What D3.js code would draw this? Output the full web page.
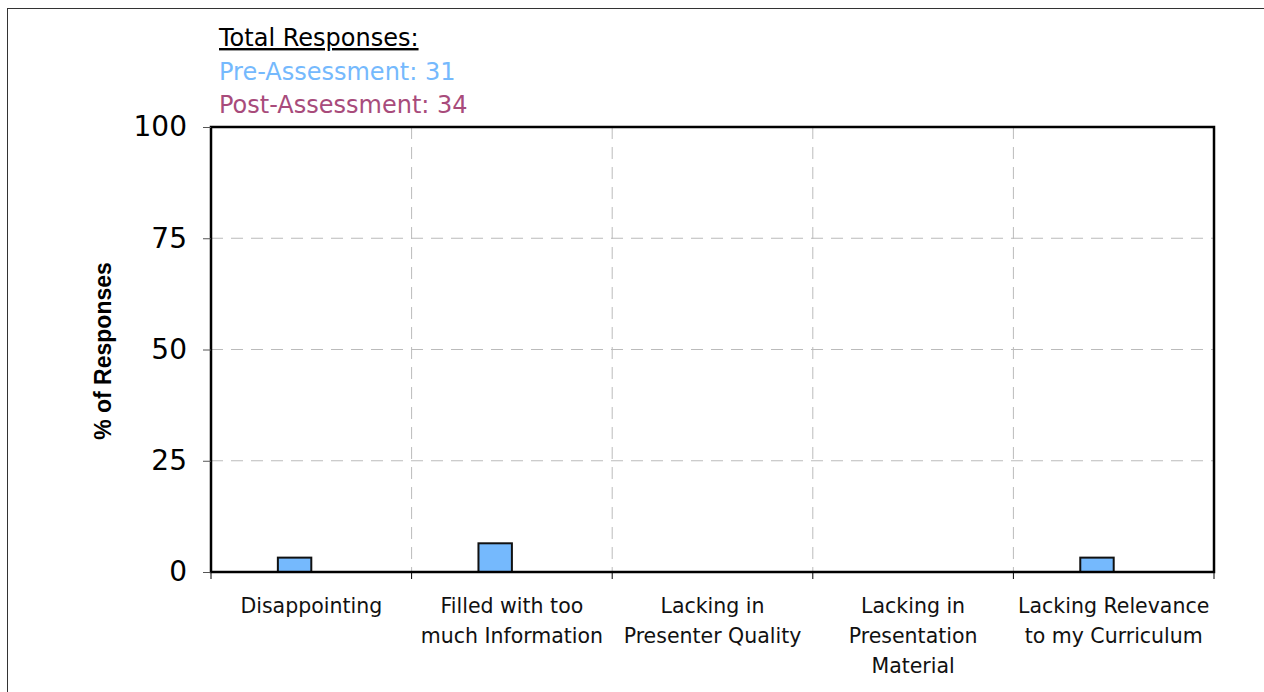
<!DOCTYPE html>
<html>
<head>
<meta charset="utf-8">
<script src="https://cdn.jsdelivr.net/npm/d3@7"></script>
<style>
  body { margin: 0; background: #fff; }
  svg { display: block; }
</style>
</head>
<body>
<svg id="chart" width="1264" height="692"></svg>
<script>
// categories and values (% of responses)
let categories = [
    ["Disappointing"],
    ["Filled with too", "much Information"],
    ["Lacking in", "Presenter Quality"],
    ["Lacking in", "Presentation", "Material"],
    ["Lacking Relevance", "to my Curriculum"]
]
let preValues = [3.23, 6.45, 0, 0, 3.23]
let postValues = [0, 0, 0, 0, 0]
let yTicks = [0, 25, 50, 75, 100]
let totalPre = 31, totalPost = 34

let preColor = "#75b9fd"
let postColor = "#a84b7b"

let svg = d3.select("#chart")

// outer frame (runs past the window on right and bottom)
svg.append("rect")
    .attr("x", 7.5).attr("y", 8.5)
    .attr("width", 1300).attr("height", 720)
    .attr("fill", "none")
    .attr("stroke", "#333")
    .attr("stroke-width", 1)

let plotLeft = 211, plotTop = 127, plotRight = 1214, plotBottom = 572

let keys = categories.map((d, i) => i)
let xScale = d3.scaleBand().domain(keys).range([plotLeft, plotRight])
let yScale = d3.scaleLinear().domain([0, 100]).range([plotBottom, plotTop])

// gridlines
svg.append("g")
    .selectAll("line")
    .data(yTicks.filter(d => d > 0 && d < 100))
    .join("line")
    .attr("x1", plotLeft).attr("x2", plotRight)
    .attr("y1", d => yScale(d)).attr("y2", d => yScale(d))
    .attr("stroke", "#bbb")
    .attr("stroke-dasharray", "12,8")

svg.append("g")
    .selectAll("line")
    .data(keys.slice(1))
    .join("line")
    .attr("x1", d => xScale(d)).attr("x2", d => xScale(d))
    .attr("y1", plotTop).attr("y2", plotBottom)
    .attr("stroke", "#bbb")
    .attr("stroke-dasharray", "12,8")

// bars
let barW = xScale.bandwidth() / 6
let cx = d => xScale(d) + xScale.bandwidth() / 2

svg.append("g")
    .selectAll("rect")
    .data(keys.filter(i => preValues[i] > 0))
    .join("rect")
    .attr("x", i => cx(i) - barW)
    .attr("y", i => yScale(preValues[i]))
    .attr("width", barW)
    .attr("height", i => yScale(0) - yScale(preValues[i]))
    .attr("fill", preColor)
    .attr("stroke", "#111")
    .attr("stroke-width", 2)

svg.append("g")
    .selectAll("rect")
    .data(keys.filter(i => postValues[i] > 0))
    .join("rect")
    .attr("x", i => cx(i))
    .attr("y", i => yScale(postValues[i]))
    .attr("width", barW)
    .attr("height", i => yScale(0) - yScale(postValues[i]))
    .attr("fill", postColor)
    .attr("stroke", "#111")
    .attr("stroke-width", 2)

// plot border
svg.append("rect")
    .attr("x", plotLeft).attr("y", plotTop)
    .attr("width", plotRight - plotLeft).attr("height", plotBottom - plotTop)
    .attr("fill", "none")
    .attr("stroke", "#000")
    .attr("stroke-width", 2.5)

// y axis
let yAxis = svg.append("g")
    .attr("transform", `translate(${plotLeft},0)`)
    .call(d3.axisLeft(yScale).tickValues(yTicks).tickSize(8).tickPadding(16))
yAxis.select(".domain").remove()
yAxis.selectAll("line").attr("stroke", "#555")
yAxis.selectAll("text")
    .style("font-family", "'DejaVu Sans', sans-serif")
    .style("font-size", "28px")
    .attr("fill", "#000")

// x axis ticks at band boundaries
svg.append("g")
    .selectAll("line")
    .data(keys.concat([keys.length]))
    .join("line")
    .attr("x1", d => d < keys.length ? xScale(d) : plotRight)
    .attr("x2", d => d < keys.length ? xScale(d) : plotRight)
    .attr("y1", plotBottom).attr("y2", plotBottom + 7)
    .attr("stroke", "#000")
    .attr("stroke-width", 1)

// category labels
svg.append("g")
    .selectAll("text")
    .data(keys)
    .join("text")
    .attr("x", cx)
    .attr("y", 613)
    .attr("text-anchor", "middle")
    .style("font-family", "'DejaVu Sans', sans-serif")
    .style("font-size", "20.5px")
    .attr("fill", "#111")
    .selectAll("tspan")
    .data(i => categories[i].map(t => ({t: t, x: cx(i)})))
    .join("tspan")
    .attr("x", d => d.x)
    .attr("dy", (d, j) => j === 0 ? 0 : 30)
    .text(d => d.t)

// y title
svg.append("text")
    .attr("transform", "translate(111,351) rotate(-90)")
    .attr("text-anchor", "middle")
    .style("font-family", "'Liberation Sans', Arial, sans-serif")
    .style("font-size", "23px")
    .style("font-weight", "bold")
    .text("% of Responses")

// totals block
let legend = svg.append("g")
    .style("font-family", "'DejaVu Sans', sans-serif")
    .style("font-size", "24px")
legend.append("text")
    .attr("x", 219).attr("y", 46)
    .attr("fill", "#000")
    .style("text-decoration", "underline")
    .text("Total Responses:")
legend.append("text")
    .attr("x", 219).attr("y", 80)
    .attr("fill", preColor)
    .text("Pre-Assessment: " + totalPre)
legend.append("text")
    .attr("x", 219).attr("y", 113)
    .attr("fill", postColor)
    .text("Post-Assessment: " + totalPost)
</script>
</body>
</html>
